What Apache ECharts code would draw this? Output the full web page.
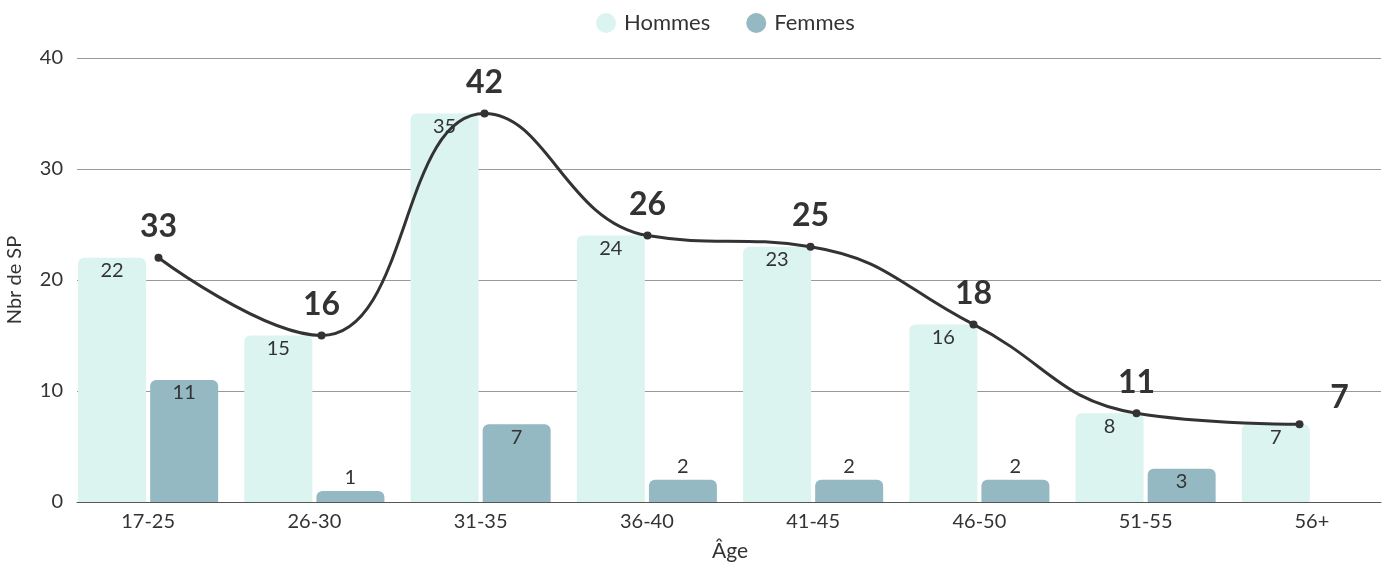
<!DOCTYPE html>
<html>
<head>
<meta charset="utf-8">
<script src="https://cdn.jsdelivr.net/npm/echarts@6/dist/echarts.min.js"></script>
<style>
  html, body { margin: 0; padding: 0; background: #fff; }
  #chart { width: 1389px; height: 568px; }
</style>
</head>
<body>
<div id="chart"></div>
<script>
const ages = ['17-25', '26-30', '31-35', '36-40', '41-45', '46-50', '51-55', '56+']
const hommes = [22, 15, 35, 24, 23, 16, 8, 7]
const femmes = [11, 1, 7, 2, 2, 2, 3, 0]
const totals = [33, 16, 42, 26, 25, 18, 11, 7]

const chart = echarts.init(document.getElementById('chart'))

// small bars get their label above the bar
const femmesData = femmes.map(v => {
  if (v === 0) return { value: v, label: { show: false } }
  if (v <= 2) return { value: v, label: { position: 'top' } }
  return v
})

const totalData = hommes.map((v, i) => {
  const item = { value: v }
  if (i === hommes.length - 1) item.label = { offset: [40, 4] }
  return item
})

const option = {
  textStyle: { fontFamily: 'Lato' },
  legend: {
    data: ['Hommes', 'Femmes'],
    top: 7,
    left: 591,
    icon: 'circle',
    itemWidth: 20,
    itemHeight: 20,
    itemGap: 36,
    textStyle: { fontSize: 22, color: '#333', fontFamily: 'Lato', padding: [0, 0, 0, 3] }
  },
  grid: [
    { left: 65, width: 1330, top: 58, bottom: 66, outerBoundsMode: 'none', containLabel: false },
    { left: 77, width: 1304, top: 58, bottom: 66, outerBoundsMode: 'none', containLabel: false }
  ],
  xAxis: [
    {
      type: 'category',
      gridIndex: 0,
      data: ages,
      axisLine: { show: false },
      axisTick: { show: false },
      axisLabel: { color: '#333', fontSize: 20, margin: 10, fontFamily: 'Lato' },
      name: 'Âge',
      nameLocation: 'middle',
      nameGap: 39,
      nameTextStyle: { color: '#333', fontSize: 21, fontFamily: 'Lato' }
    },
    {
      type: 'category',
      gridIndex: 1,
      data: ages,
      axisLine: { show: true, lineStyle: { color: '#555', width: 1 } },
      axisTick: { show: false },
      axisLabel: { show: false }
    }
  ],
  yAxis: [
    {
      type: 'value',
      gridIndex: 0,
      min: 0, max: 40, interval: 10,
      show: false
    },
    {
      type: 'value',
      gridIndex: 1,
      min: 0, max: 40, interval: 10,
      axisLine: { show: false },
      axisTick: { show: false },
      axisLabel: { color: '#333', fontSize: 20, margin: 14, fontFamily: 'Lato' },
      splitLine: { lineStyle: { color: '#999', width: 1 } },
      name: 'Nbr de SP',
      nameLocation: 'middle',
      nameGap: 52,
      nameTextStyle: { color: '#333', fontSize: 20, fontFamily: 'Lato' }
    }
  ],
  series: [
    {
      name: 'Hommes',
      type: 'bar',
      xAxisIndex: 0,
      yAxisIndex: 0,
      data: hommes,
      barWidth: 68,
      barGap: '6%',
      itemStyle: { color: '#dbf4f0', borderRadius: [6, 6, 0, 0] },
      label: {
        show: true,
        position: 'insideTop',
        distance: 3,
        color: '#333',
        fontSize: 20,
        fontFamily: 'Lato'
      }
    },
    {
      name: 'Femmes',
      type: 'bar',
      xAxisIndex: 0,
      yAxisIndex: 0,
      data: femmesData,
      barWidth: 68,
      itemStyle: { color: '#94b9c2', borderRadius: [6, 6, 0, 0] },
      label: {
        show: true,
        position: 'insideTop',
        distance: 3,
        color: '#333',
        fontSize: 20,
        fontFamily: 'Lato'
      }
    },
    {
      name: 'Total',
      type: 'line',
      xAxisIndex: 1,
      yAxisIndex: 1,
      data: totalData,
      smooth: 0.45,
      symbol: 'circle',
      symbolSize: 8,
      z: 5,
      lineStyle: { color: '#333', width: 3 },
      itemStyle: { color: '#333' },
      label: {
        show: true,
        position: 'top',
        distance: 11,
        color: '#333',
        fontSize: 32,
        fontWeight: 'bold',
        fontFamily: 'Lato',
        formatter: p => totals[p.dataIndex]
      }
    }
  ]
}

chart.setOption(option)
</script>
</body>
</html>
